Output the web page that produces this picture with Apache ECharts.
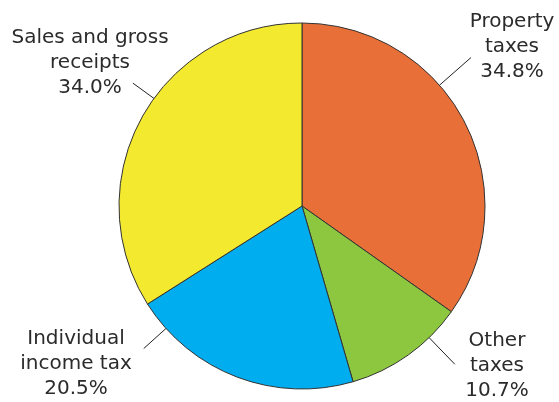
<!DOCTYPE html>
<html>
<head>
<meta charset="utf-8">
<script src="https://cdn.jsdelivr.net/npm/echarts@6/dist/echarts.min.js"></script>
<style>
html,body{margin:0;padding:0;background:#fff;}
#chart{width:559px;height:402px;}
</style>
</head>
<body>
<div id="chart"></div>
<script>
// Data
var categories = ['Property\ntaxes', 'Other\ntaxes', 'Individual\nincome tax', 'Sales and gross\nreceipts'];
var shares = [34.8, 10.7, 20.5, 34.0];

// Styling / layout (not data)
var colors = ['#E87038', '#8DC63F', '#00AEEF', '#F3E92F'];
var labelCenters = [[512, 47], [497, 366], [76, 364], [90, 63]];
var leaderAngles = [48.7, 136, 228, 306];   // degrees clockwise from top
var leaderOuter = [225, 220, 213, 209];
var CX = 302, CY = 206, R = 183;

function polar(angleDeg, r) {
  var a = angleDeg * Math.PI / 180;
  return [CX + r * Math.sin(a), CY - r * Math.cos(a)];
}

var chart = echarts.init(document.getElementById('chart'), null, {renderer: 'canvas'});
chart.setOption({
  animation: false,
  backgroundColor: '#ffffff',
  series: [{
    type: 'pie',
    center: [CX, CY],
    radius: [0, R],
    startAngle: 90,
    clockwise: true,
    data: categories.map(function (c, i) {
      return {name: c, value: shares[i], itemStyle: {color: colors[i]}};
    }),
    itemStyle: {borderColor: '#333333', borderWidth: 1},
    emphasis: {disabled: true},
    label: {
      show: true,
      position: 'outside',
      overflow: 'none',
      formatter: function (p) { return p.name + '\n' + p.value.toFixed(1) + '%'; },
      fontFamily: 'DejaVu Sans',
      fontSize: 20,
      lineHeight: 25,
      color: '#2b2b2b',
      align: 'center'
    },
    labelLine: {
      show: true,
      length: 20,
      length2: 0,
      lineStyle: {color: '#222222', width: 1}
    },
    labelLayout: function (params) {
      var i = params.dataIndex;
      var p0 = polar(leaderAngles[i], R);
      var p1 = polar(leaderAngles[i], leaderOuter[i]);
      return {
        x: labelCenters[i][0],
        y: labelCenters[i][1],
        align: 'center',
        verticalAlign: 'middle',
        labelLinePoints: [p0, p1, p1]
      };
    }
  }]
});
</script>
</body>
</html>
